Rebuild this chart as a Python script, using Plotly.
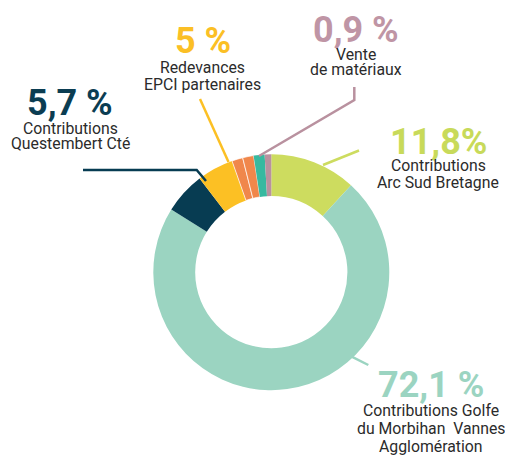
import plotly.graph_objects as go

# browser window and the default 8px page margin (top/left offset)
WIN_W, WIN_H = 513, 455
PAGE_MARGIN = 8
W, H = WIN_W - PAGE_MARGIN, WIN_H - PAGE_MARGIN

# ---- data ----
categories = [
    "Contributions Arc Sud Bretagne",
    "Contributions Golfe du Morbihan Vannes Agglomération",
    "Contributions Questembert Cté",
    "Redevances EPCI partenaires",
    "Autre 1",
    "Autre 2",
    "Autre 3",
    "Vente de matériaux",
]
shares = [11.8, 72.1, 5.7, 5.0, 1.5, 1.5, 1.5, 0.9]
pct_labels = ["11,8%", "72,1 %", "5,7 %", "5 %", "", "", "", "0,9 %"]
colors = ["#CDDC5F", "#9BD4C1", "#073C52", "#FCC024",
          "#F0874B", "#F0874B", "#37B9A0", "#B9919F"]
text_colors = ["#C8DA5A", "#9BD4C1", "#0B3D52", "#FBBF25", "", "", "", "#BF95A5"]


def px(x):
    """window pixel x -> paper coordinate"""
    return (x - PAGE_MARGIN) / W


def py(y):
    """window pixel y (from top) -> paper coordinate"""
    return 1 - (y - PAGE_MARGIN) / H


# ring geometry (window pixels)
cx, cy, r = 271.3, 272.2, 118.0

fig = go.Figure(go.Pie(
    labels=categories,
    values=shares,
    sort=False,
    direction="clockwise",
    rotation=0,
    hole=0.645,
    marker=dict(colors=colors,
                line=dict(color="white", width=[0, 0, 0, 0, 0.7, 0.7, 0, 0])),
    textinfo="none",
    hoverinfo="label+percent",
    domain=dict(x=[px(cx - r), px(cx + r)], y=[py(cy + r), py(cy - r)]),
    showlegend=False,
))

# leader lines (window pixel paths)
leaders = [
    ([(323, 165), (359, 150.5)], colors[0]),
    ([(351.7, 356.7), (368.3, 365)], colors[1]),
    ([(83, 170), (196.7, 170), (206, 181)], colors[2]),
    ([(200, 99), (228.5, 162)], colors[3]),
    ([(354.3, 87), (354.3, 100), (259, 156)], colors[7]),
]
shapes = []
for pts, col in leaders:
    path = "M " + " L ".join(f"{px(x)},{py(y)}" for x, y in pts)
    shapes.append(dict(type="path", xref="paper", yref="paper", path=path,
                       line=dict(color=col, width=2.5)))

PCT_FONT = "Roboto"
LBL_FONT = "Roboto"
LBL_COLOR = "#2b2b2b"

# (slice index, center x, pct center y, label lines, first label line y, line step)
placements = [
    (0, 438, 142, ["Contributions", "Arc Sud Bretagne"], 165, 17),
    (1, 431, 385, ["Contributions Golfe", "du Morbihan  Vannes", "Agglomération"], 410, 18),
    (2, 70, 103, ["Contributions", "Questembert Cté"], 128, 16),
    (3, 202.5, 41, ["Redevances", "EPCI partenaires"], 67, 17),
    (7, 356, 30, ["Vente", "de matériaux"], 54, 16),
]

annotations = []
for idx, x, ypct, lines, y0, step in placements:
    annotations.append(dict(
        x=px(x), y=py(ypct), xref="paper", yref="paper",
        text=f"<b>{pct_labels[idx]}</b>", showarrow=False,
        xanchor="center", yanchor="middle",
        font=dict(family=PCT_FONT, size=36, color=text_colors[idx]),
    ))
    for k, line in enumerate(lines):
        annotations.append(dict(
            x=px(x), y=py(y0 + k * step), xref="paper", yref="paper",
            text=line, showarrow=False, xanchor="center", yanchor="middle",
            font=dict(family=LBL_FONT, size=15.8, color=LBL_COLOR),
        ))

fig.update_layout(
    width=W, height=H,
    margin=dict(l=0, r=0, t=0, b=0),
    paper_bgcolor="white", plot_bgcolor="white",
    shapes=shapes, annotations=annotations,
)

fig.write_html("out.html")
